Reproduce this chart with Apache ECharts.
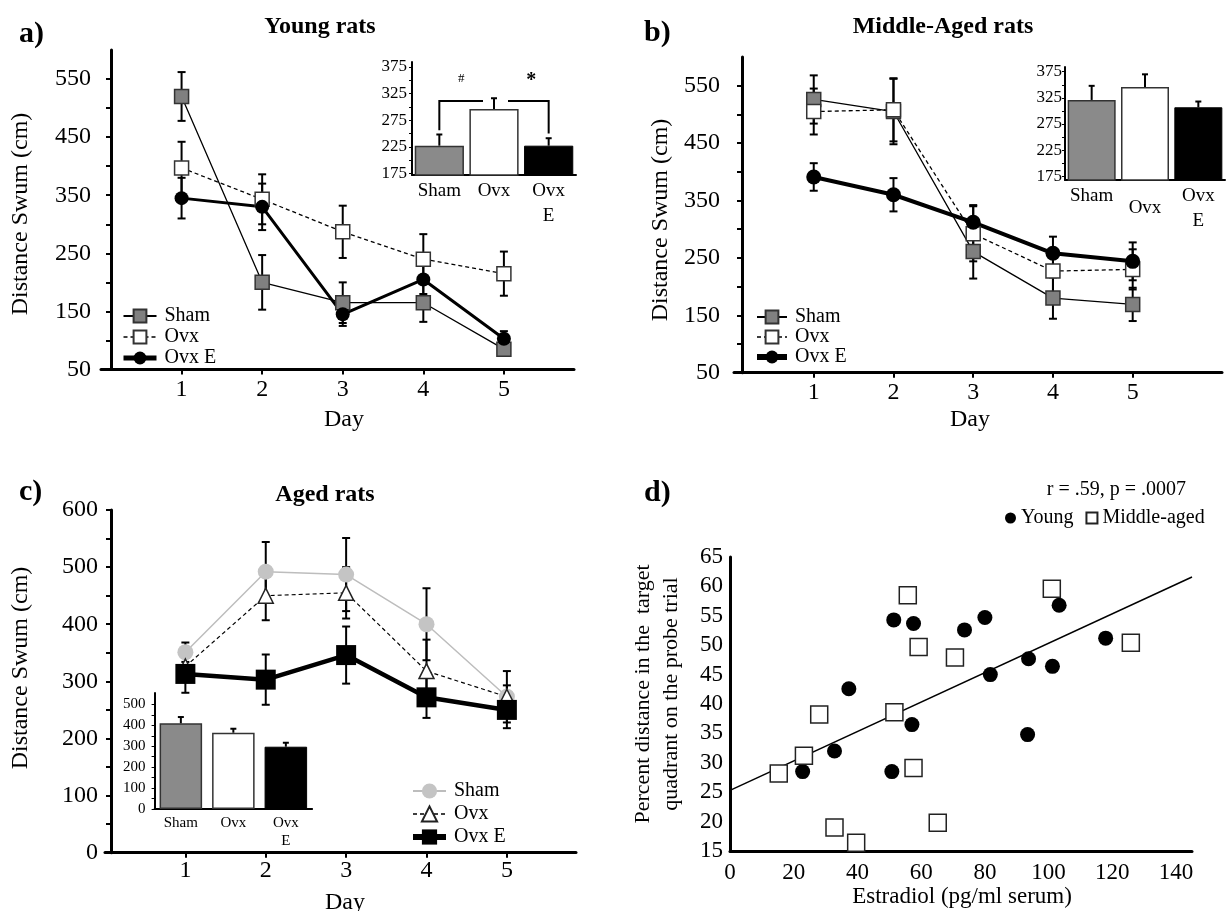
<!DOCTYPE html>
<html>
<head>
<meta charset="utf-8">
<title>Water maze distance swum</title>
<script src="https://cdn.jsdelivr.net/npm/echarts@6/dist/echarts.min.js"></script>
<style>
  html, body { margin: 0; padding: 0; background: #fff; }
  #chart { width: 1231px; height: 911px; }
</style>
</head>
<body>
<div id="chart"></div>
<script>
var days = [1, 2, 3, 4, 5];
var groups = ['Sham', 'Ovx', 'Ovx\nE'];

// a) Young rats
var youngSham = [520, 200, 165, 165, 85];
var youngShamErr = [42, 47, 35, 33, 10];
var youngOvx = [397, 343, 287, 240, 215];
var youngOvxErr = [45, 43, 45, 43, 38];
var youngOvxE = [345, 330, 145, 205, 103];
var youngOvxEErr = [35, 40, 20, 25, 13];
var youngBars = [227, 296, 227];
var youngBarErr = [21, 20, 14];
var youngBracket = [311, 256, 250]; // top, left leg end, right leg end
var youngSigMarks = ['#', '*'];

// b) Middle-aged rats
var midSham = [526, 505, 261, 180, 169];
var midShamErr = [42, 57, 47, 36, 29];
var midOvx = [505, 508, 292, 227, 230];
var midOvxErr = [40, 55, 48, 40, 35];
var midOvxE = [391, 360, 312, 258, 244];
var midOvxEErr = [24, 29, 30, 29, 33];
var midBars = [321, 346, 307];
var midBarErr = [27, 24, 11];

// c) Aged rats
var agedSham = [351, 492, 487, 400, 273];
var agedShamErr = [17, 52, 64, 63, 45];
var agedOvx = [326, 450, 455, 318, 273];
var agedOvxErr = [15, 43, 45, 55, 20];
var agedOvxE = [313, 303, 346, 272, 250];
var agedOvxEErr = [33, 44, 50, 36, 32];
var agedBars = [410, 365, 298];
var agedBarErr = [30, 19, 19];

// d) estradiol vs probe trial
var youngE2 = [22.8, 32.8, 37.3, 51.4, 50.8, 57.6, 57.1, 73.6, 80.0, 81.7, 93.7, 93.4, 101.2, 103.3, 117.9];
var youngProbe = [28.5, 32.0, 42.6, 54.3, 28.5, 53.7, 36.5, 52.6, 54.7, 45.0, 47.7, 34.8, 46.4, 56.8, 51.2];
var midE2 = [15.3, 23.2, 28.0, 32.8, 39.6, 51.6, 55.8, 59.2, 57.6, 65.2, 70.6, 101.0, 125.8];
var midProbe = [28.2, 31.2, 38.2, 19.0, 16.4, 38.6, 58.5, 49.7, 29.1, 19.8, 47.9, 59.6, 50.4];
var fitLine = [[0, 25.3], [145, 61.6]];

var serif = 'Liberation Serif';

function pairs(xs, ys) { return xs.map(function (x, i) { return [x, ys[i]]; }); }
function triples(xs, ys, es) { return xs.map(function (x, i) { return [x, ys[i], es[i]]; }); }
function steps(a, b, s) { var r = []; for (var v = a; v <= b + 1e-9; v += s) r.push(v); return r; }

function errorBar(capHalf, lineW, upOnly) {
  return function (params, api) {
    var x = api.value(0), v = api.value(1), e = api.value(2);
    var top = api.coord([x, v + e]);
    var bot = api.coord([x, upOnly ? v : v - e]);
    var st = { stroke: '#000', lineWidth: lineW };
    var kids = [
      { type: 'line', shape: { x1: top[0], y1: top[1], x2: bot[0], y2: bot[1] }, style: st },
      { type: 'line', shape: { x1: top[0] - capHalf, y1: top[1], x2: top[0] + capHalf, y2: top[1] }, style: st }
    ];
    if (!upOnly) kids.push({ type: 'line', shape: { x1: bot[0] - capHalf, y1: bot[1], x2: bot[0] + capHalf, y2: bot[1] }, style: st });
    return { type: 'group', children: kids };
  };
}

function mainX(gi, max, margin) {
  return {
    type: 'value', gridIndex: gi, min: 0, max: max,
    axisLine: { onZero: false, lineStyle: { color: '#000', width: 3 } },
    axisTick: { customValues: days, length: 5, lineStyle: { color: '#000', width: 2 } },
    axisLabel: { customValues: days, color: '#000', fontFamily: serif, fontSize: 24, margin: margin },
    splitLine: { show: false }
  };
}
function mainY(gi, min, max, labels, ticks, offset, margin) {
  return {
    type: 'value', gridIndex: gi, min: min, max: max, offset: offset,
    axisLine: { show: true, onZero: false, lineStyle: { color: '#000', width: 3 } },
    axisTick: { show: true, customValues: ticks, length: 5, lineStyle: { color: '#000', width: 2 } },
    axisLabel: { customValues: labels, color: '#000', fontFamily: serif, fontSize: 24, margin: margin },
    splitLine: { show: false }
  };
}
function insetX(gi, cats, fontSize, lineHeight, margin) {
  return {
    type: 'category', gridIndex: gi, data: cats,
    axisLine: { lineStyle: { color: '#000', width: 2 } },
    axisTick: { alignWithLabel: true, length: 3, lineStyle: { color: '#000' } },
    axisLabel: { interval: 0, color: '#000', fontFamily: serif, fontSize: fontSize, lineHeight: lineHeight, margin: margin }
  };
}
function insetY(gi, min, max, labels, ticks, fontSize, margin) {
  return {
    type: 'value', gridIndex: gi, min: min, max: max,
    axisLine: { show: true, onZero: false, lineStyle: { color: '#000', width: 2 } },
    axisTick: { show: true, customValues: ticks, length: 3, lineStyle: { color: '#000' } },
    axisLabel: { customValues: labels, color: '#000', fontFamily: serif, fontSize: fontSize, margin: margin },
    splitLine: { show: false }
  };
}

function lineSeries(name, gi, vals, sym, size, color, border, lw, dash, lineColor) {
  return {
    name: name, type: 'line', xAxisIndex: gi, yAxisIndex: gi, data: pairs(days, vals),
    symbol: sym, symbolSize: size, z: 3,
    lineStyle: { color: lineColor || '#000', width: lw, type: dash || 'solid' },
    itemStyle: { color: color, borderColor: border, borderWidth: border ? 1.5 : 0, opacity: 1 }
  };
}
function errSeries(gi, vals, errs, cap, lw) {
  return {
    type: 'custom', xAxisIndex: gi, yAxisIndex: gi, silent: true, z: 2,
    data: triples(days, vals, errs), encode: { x: 0, y: 1 },
    renderItem: errorBar(cap, lw, false)
  };
}
var barColors = [
  { color: '#8a8a8a', borderColor: '#333', borderWidth: 1.5 },
  { color: '#ffffff', borderColor: '#333', borderWidth: 1.5 },
  { color: '#000000', borderColor: '#000', borderWidth: 1 }
];
function barSeries(gi, vals, width) {
  return {
    type: 'bar', xAxisIndex: gi, yAxisIndex: gi, barWidth: width, silent: true,
    data: vals.map(function (v, i) { return { value: v, itemStyle: barColors[i] }; })
  };
}
function barErrSeries(gi, vals, errs) {
  return {
    type: 'custom', xAxisIndex: gi, yAxisIndex: gi, silent: true, z: 3,
    data: vals.map(function (v, i) { return [i, v, errs[i]]; }), encode: { x: 0, y: 1 },
    renderItem: errorBar(3, 2, true)
  };
}

var legendText = { color: '#000', fontFamily: serif, fontSize: 20, padding: [0, 0, 0, 3] };
function stripName(n) { return n.split('|')[1]; }
function legendItems(p, widths) {
  return ['Sham', 'Ovx', 'Ovx E'].map(function (n, i) {
    return { name: p + '|' + n, lineStyle: { width: widths[i] } };
  });
}

function txt(text, x, y, size, bold, align, rot) {
  return {
    type: 'text', x: x, y: y, rotation: rot || 0,
    style: { text: text, fill: '#000', font: (bold ? 'bold ' : '') + size + 'px "' + serif + '"',
      align: align || 'center', verticalAlign: 'middle', lineHeight: 28 }
  };
}

var chart = echarts.init(document.getElementById('chart'));
var option = {
  backgroundColor: '#fff',
  animation: false,
  grid: [
    { left: 101, top: 50, width: 473, height: 319.5 },   // a main
    { left: 412, top: 62, width: 164, height: 113 },     // a inset
    { left: 734, top: 57, width: 488, height: 315.7 },   // b main
    { left: 1065, top: 67, width: 160, height: 113 },    // b inset
    { left: 105, top: 510, width: 471, height: 342.7 },  // c main
    { left: 154.6, top: 693, width: 157.5, height: 116 },// c inset
    { left: 730, top: 557, width: 462, height: 294 }     // d
  ],
  xAxis: [
    mainX(0, 5.87, 8),
    insetX(1, groups, 19, 25, 4),
    mainX(2, 6.12, 8),
    insetX(3, ['Sham', { value: 'Ovx', textStyle: { padding: [12, 0, 0, 0] } }, 'Ovx\nE'], 19, 25, 4),
    mainX(4, 5.86, 6),
    insetX(5, groups, 15, 18, 5),
    {
      type: 'value', gridIndex: 6, min: 0, max: 145,
      axisLine: { onZero: false, lineStyle: { color: '#000', width: 3 } },
      axisTick: { show: false },
      axisLabel: { customValues: steps(0, 140, 20), color: '#000', fontFamily: serif, fontSize: 23, margin: 10 },
      splitLine: { show: false }
    }
  ],
  yAxis: [
    mainY(0, 50, 600, steps(50, 550, 100), steps(50, 550, 50), -10, 20),
    insetY(1, 172, 384, steps(175, 375, 50), steps(175, 375, 25), 17, 5),
    mainY(2, 50, 600, steps(50, 550, 100), steps(50, 550, 50), -8, 22),
    insetY(3, 168, 384, steps(175, 375, 50), steps(175, 375, 25), 17, 3),
    mainY(4, 0, 600, steps(0, 600, 100), steps(0, 600, 50), -6, 13),
    insetY(5, 0, 555, steps(0, 500, 100), steps(0, 500, 50), 15, 9),
    {
      type: 'value', gridIndex: 6, min: 15, max: 65, interval: 5,
      axisLine: { show: true, onZero: false, lineStyle: { color: '#000', width: 3 } },
      axisTick: { show: false },
      axisLabel: { color: '#000', fontFamily: serif, fontSize: 23, margin: 7 },
      splitLine: { show: false }
    }
  ],
  legend: [
    { left: 116, top: 301, orient: 'vertical', itemWidth: 33, itemHeight: 16, itemGap: 1, selectedMode: false,
      data: legendItems('a', [2, 1.5, 5]), formatter: stripName, textStyle: legendText },
    { left: 749, top: 302, orient: 'vertical', itemWidth: 30, itemHeight: 16, itemGap: 0, selectedMode: false,
      data: legendItems('b', [2, 1.5, 6]), formatter: stripName, textStyle: legendText },
    { left: 405, top: 776, orient: 'vertical', itemWidth: 33, itemHeight: 19, itemGap: 3, selectedMode: false,
      data: legendItems('c', [2, 1.5, 6]), formatter: stripName, textStyle: legendText },
    { left: 1000, top: 503, orient: 'horizontal', itemWidth: 11, itemHeight: 11, itemGap: 12, selectedMode: false,
      data: ['Young', 'Middle-aged'], textStyle: { color: '#000', fontFamily: serif, fontSize: 20, padding: [0, 0, 0, 0] } }
  ],
  series: [
    // a
    errSeries(0, youngSham, youngShamErr, 4, 2),
    errSeries(0, youngOvx, youngOvxErr, 4, 2),
    errSeries(0, youngOvxE, youngOvxEErr, 4, 2),
    lineSeries('a|Sham', 0, youngSham, 'rect', 14, '#808080', '#333', 1.3),
    lineSeries('a|Ovx', 0, youngOvx, 'rect', 14, '#fff', '#333', 1.3, [4, 3]),
    lineSeries('a|Ovx E', 0, youngOvxE, 'circle', 14, '#000', null, 3),
    barSeries(1, youngBars, '90%'),
    barErrSeries(1, youngBars, youngBarErr),
    {
      type: 'custom', xAxisIndex: 1, yAxisIndex: 1, silent: true, z: 4,
      data: [youngBracket], encode: { y: [0, 1, 2] },
      renderItem: function (params, api) {
        var top = api.value(0), lb = api.value(1), rb = api.value(2);
        var s = api.coord([0, top]), o = api.coord([1, top]), e = api.coord([2, top]);
        var sb = api.coord([0, lb]), eb = api.coord([2, rb]);
        var st = { stroke: '#000', lineWidth: 2, fill: null };
        return { type: 'group', children: [
          { type: 'polyline', shape: { points: [[sb[0], sb[1]], [s[0], s[1]], [o[0] - 11, o[1]]] }, style: st },
          { type: 'polyline', shape: { points: [[o[0] + 14, o[1]], [e[0], e[1]], [eb[0], eb[1]]] }, style: st },
          { type: 'text', x: s[0] + 0.4 * (o[0] - s[0]), y: s[1] - 22,
            style: { text: youngSigMarks[0], fill: '#000', font: '13px "' + serif + '"', align: 'center', verticalAlign: 'middle' } },
          { type: 'text', x: o[0] + 0.68 * (e[0] - o[0]), y: s[1] - 20,
            style: { text: youngSigMarks[1], fill: '#000', font: 'bold 20px "' + serif + '"', align: 'center', verticalAlign: 'middle' } }
        ] };
      }
    },
    // b
    errSeries(2, midSham, midShamErr, 4, 2),
    errSeries(2, midOvx, midOvxErr, 4, 2),
    errSeries(2, midOvxE, midOvxEErr, 4, 2),
    lineSeries('b|Sham', 2, midSham, 'rect', 14, '#808080', '#333', 1.3),
    lineSeries('b|Ovx', 2, midOvx, 'rect', 14, '#fff', '#333', 1.3, [4, 3]),
    lineSeries('b|Ovx E', 2, midOvxE, 'circle', 15, '#000', null, 4),
    barSeries(3, midBars, '90%'),
    barErrSeries(3, midBars, midBarErr),
    // c
    errSeries(4, agedSham, agedShamErr, 4, 2),
    errSeries(4, agedOvx, agedOvxErr, 4, 2),
    errSeries(4, agedOvxE, agedOvxEErr, 4, 2),
    lineSeries('c|Sham', 4, agedSham, 'circle', 16, '#c4c4c4', null, 1.5, null, '#bdbdbd'),
    lineSeries('c|Ovx', 4, agedOvx, 'triangle', 15, '#fff', '#222', 1.2, [4, 3]),
    lineSeries('c|Ovx E', 4, agedOvxE, 'rect', 20, '#000', null, 4.5),
    barSeries(5, agedBars, '81%'),
    barErrSeries(5, agedBars, agedBarErr),
    // d
    {
      type: 'line', xAxisIndex: 6, yAxisIndex: 6, data: fitLine, symbol: 'none', silent: true,
      lineStyle: { color: '#000', width: 1.5 }, z: 1
    },
    {
      name: 'Young', type: 'scatter', xAxisIndex: 6, yAxisIndex: 6, data: pairs(youngE2, youngProbe),
      symbol: 'circle', symbolSize: 15, itemStyle: { color: '#000', opacity: 1 }, z: 3
    },
    {
      name: 'Middle-aged', type: 'scatter', xAxisIndex: 6, yAxisIndex: 6, data: pairs(midE2, midProbe),
      symbol: 'rect', symbolSize: 17, itemStyle: { color: '#fff', borderColor: '#222', borderWidth: 1.5, opacity: 1 }, z: 3
    }
  ],
  graphic: [
    txt('a)', 19, 34, 30, true, 'left'),
    txt('Young rats', 320, 27, 24, true),
    txt('b)', 644, 33, 30, true, 'left'),
    txt('Middle-Aged rats', 943, 27, 24, true),
    txt('c)', 19, 492, 30, true, 'left'),
    txt('Aged rats', 325, 495, 24, true),
    txt('d)', 644, 493, 30, true, 'left'),
    txt('r = .59, p = .0007', 1186, 490, 20, false, 'right'),
    txt('Distance Swum (cm)', 21, 214, 24, false, 'center', Math.PI / 2),
    txt('Distance Swum (cm)', 661, 220, 24, false, 'center', Math.PI / 2),
    txt('Distance Swum (cm)', 21, 668, 24, false, 'center', Math.PI / 2),
    txt('Percent distance in the  target\nquadrant on the probe trial', 657, 694, 22, false, 'center', Math.PI / 2),
    txt('Day', 344, 420, 24),
    txt('Day', 970, 420, 24),
    txt('Day', 345, 903, 24),
    txt('Estradiol (pg/ml serum)', 962, 897, 23)
  ]
};
chart.setOption(option);
</script>
</body>
</html>
